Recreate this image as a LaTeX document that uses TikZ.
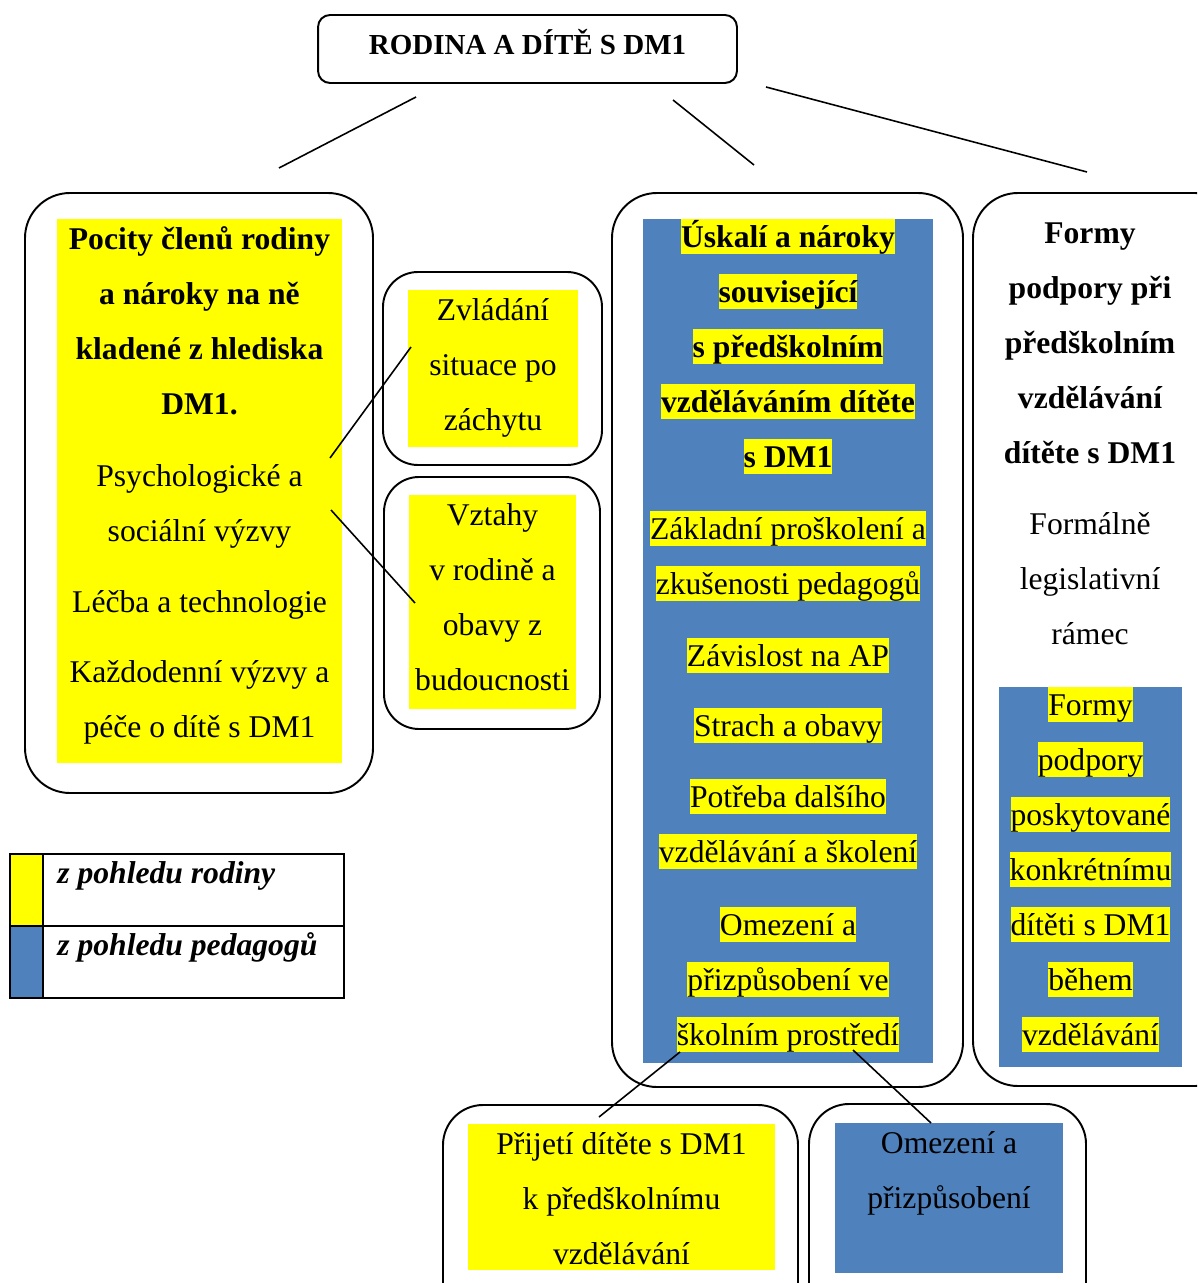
\documentclass[tikz,border=0pt]{standalone}
\usepackage{fontspec}
\setmainfont{Liberation Serif}

\definecolor{famyellow}{RGB}{255,255,0}
\definecolor{pedblue}{RGB}{79,129,189}
\setlength{\fboxsep}{0pt}
\newcommand{\bodysize}{\fontsize{18}{31.3}\selectfont}
\newcommand{\lnstrut}{\rule[-0.216em]{0pt}{1.107em}}
\newcommand{\hl}[1]{\colorbox{famyellow}{\lnstrut#1}}

\begin{document}
\begin{tikzpicture}[x=0.02cm, y=-0.02cm, every node/.style={font=\bodysize, inner sep=0pt},
	frame/.style={draw, line width=1.1pt, rounded corners=#1}, frame/.default=0.9cm,
	lines/.style={align=center, anchor=north}, strong/.style={font=\bodysize\bfseries},
	key/.style={anchor=base west, font=\bodysize\bfseries\itshape}, link/.style={line width=0.9pt}]
	\useasboundingbox (0,0) rectangle (1197,1283);
	\clip (0,0) rectangle (1197,1283);
	\node[frame=0.24cm, minimum width=8.38cm, minimum height=1.36cm, font=\fontsize{16.5}{20}\selectfont\bfseries, text height=0.68em, text depth=0pt] (title) at (527.5,49) {RODINA A DÍTĚ S DM1};
	% family
	\fill[famyellow] (57,219) rectangle (342,763);
	\draw[frame] (25,193) rectangle (373,793);
	\node[lines, strong] (feel) at (199.5,221) {\lnstrut Pocity členů rodiny\\a nároky na ně\\kladené z hlediska\\DM1.};
	\node[lines] (psych) at (199.5,458) {\lnstrut Psychologické a\\sociální výzvy};
	\node[lines] (cure) at (199.5,584) {\lnstrut Léčba a technologie};
	\node[lines] (daily) at (199.5,654) {\lnstrut Každodenní výzvy a\\péče o dítě s DM1};
	\fill[famyellow] (408,290) rectangle (578,447);
	\draw[frame=0.7cm] (383,272) rectangle (602,465);
	\node[lines] (cope) at (493,292) {\lnstrut Zvládání\\situace po\\záchytu};
	\fill[famyellow] (409,495) rectangle (576,709);
	\draw[frame=0.7cm] (384,477) rectangle (600,729);
	\node[lines] (ties) at (492.5,497) {\lnstrut Vztahy\\v rodině a\\obavy z\\budoucnosti};
	% teachers
	\fill[pedblue] (643,219) rectangle (933,1063);
	\draw[frame] (612,193) rectangle (963,1087);
	\node[lines, strong] (hurdles) at (788,219) {\hl{Úskalí a nároky}\\\hl{související}\\\hl{s předškolním}\\\hl{vzděláváním dítěte}\\\hl{s DM1}};
	\node[lines] (training) at (788,511) {\hl{Základní proškolení a}\\\hl{zkušenosti pedagogů}};
	\node[lines] (assist) at (788,638) {\hl{Závislost na AP}};
	\node[lines] (fear) at (788,708) {\hl{Strach a obavy}};
	\node[lines] (needs) at (788,779) {\hl{Potřeba dalšího}\\\hl{vzdělávání a školení}};
	\node[lines] (limits) at (788,907) {\hl{Omezení a}\\\hl{přizpůsobení ve}\\\hl{školním prostředí}};
	% support
	\draw[frame] (973,193) rectangle (1240,1086);
	\node[lines, strong] (forms) at (1090,215) {\lnstrut Formy\\podpory při\\předškolním\\vzdělávání\\dítěte s DM1};
	\node[lines] (legal) at (1090,506) {\lnstrut Formálně\\legislativní\\rámec};
	\fill[pedblue] (999,687) rectangle (1182,1067);
	\node[lines] (concrete) at (1090.5,687) {\hl{Formy}\\\hl{podpory}\\\hl{poskytované}\\\hl{konkrétnímu}\\\hl{dítěti s DM1}\\\hl{během}\\\hl{vzdělávání}};
	% bottom
	\fill[famyellow] (468,1124) rectangle (775,1270);
	\draw[frame=0.8cm] (443,1105) rectangle (798,1330);
	\node[lines] (accept) at (621.5,1126) {\lnstrut Přijetí dítěte s DM1\\k předškolnímu\\vzdělávání};
	\fill[pedblue] (835,1123) rectangle (1063,1273);
	\draw[frame=0.8cm] (809,1104) rectangle (1086,1330);
	\node[lines] (adapt) at (949,1125) {\lnstrut Omezení a\\přizpůsobení};
	% legend
	\fill[famyellow] (10,854) rectangle (43,926);
	\fill[pedblue] (10,926) rectangle (43,998);
	\draw[line width=1.1pt] (10,854) rectangle (344,998) (10,926) -- (344,926) (43,854) -- (43,998);
	\node[key] (keyfam) at (57,883) {z pohledu rodiny};
	\node[key] (keyped) at (57,955) {z pohledu pedagogů};
	% links
	\coordinate (tl) at (416,97);  \coordinate (fl) at (279,168);
	\coordinate (tm) at (673,100); \coordinate (fm) at (754,165);
	\coordinate (tr) at (766,87);  \coordinate (fr) at (1087,172);
	\coordinate (p1) at (330,458); \coordinate (c1) at (411,347);
	\coordinate (p2) at (331,510); \coordinate (c2) at (415,603);
	\coordinate (l1) at (680,1052); \coordinate (b1) at (599,1117);
	\coordinate (l2) at (853,1050); \coordinate (b2) at (931,1123);
	\draw[link] (tl) -- (fl) (tm) -- (fm) (tr) -- (fr);
	\draw[link] (p1) -- (c1) (p2) -- (c2);
	\draw[link] (l1) -- (b1) (l2) -- (b2);
\end{tikzpicture}
\end{document}
